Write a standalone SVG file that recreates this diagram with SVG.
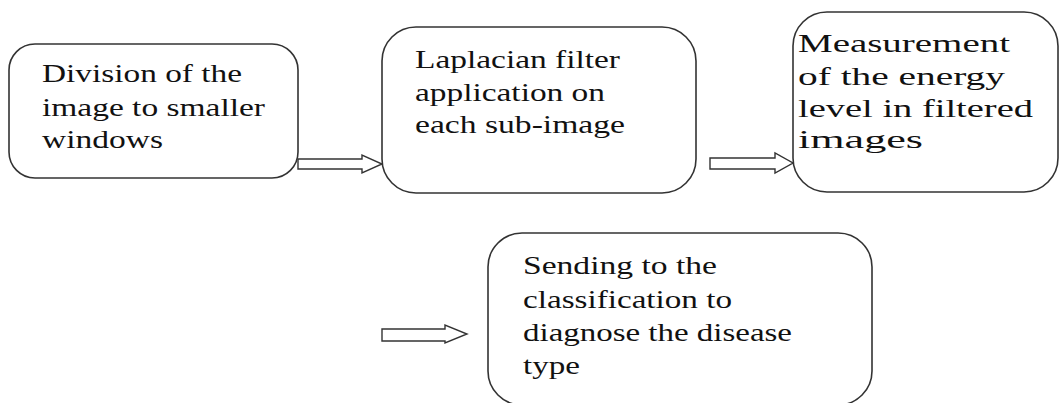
<svg xmlns="http://www.w3.org/2000/svg" width="1061" height="403" viewBox="0 0 1061 403">
  <style>
    .box { fill: #ffffff; stroke: #333333; stroke-width: 1.6; }
    .arrow { fill: #ffffff; stroke: #333333; stroke-width: 1.4; stroke-linejoin: miter; }
    .lbl { font-family: "Liberation Serif", "Times New Roman", serif; font-size: 25px; fill: #111111; }
  </style>
  <rect width="1061" height="403" fill="#ffffff"/>

  <!-- block arrows between steps -->
  <g id="connectors">
    <path class="arrow" d="M298,159 H362 V155 L382,164 L362,173 V169 H298 Z"/>
    <path class="arrow" d="M710,158 H775 V153 L793,163 L775,173 V169 H710 Z"/>
    <path class="arrow" d="M382,329 H445 V325 L467,334 L445,343 V341 H382 Z"/>
  </g>

  <g id="step-division">
    <rect class="box" x="9" y="44" width="289" height="134" rx="26" ry="26"/>
    <text class="lbl" x="42" y="82" textLength="200" lengthAdjust="spacingAndGlyphs">Division of the</text>
    <text class="lbl" x="42" y="116" textLength="223" lengthAdjust="spacingAndGlyphs">image to smaller</text>
    <text class="lbl" x="42" y="148" textLength="121" lengthAdjust="spacingAndGlyphs">windows</text>
  </g>

  <g id="step-laplacian">
    <rect class="box" x="382" y="27" width="314" height="166" rx="34" ry="34"/>
    <text class="lbl" x="415" y="68" textLength="205" lengthAdjust="spacingAndGlyphs">Laplacian filter</text>
    <text class="lbl" x="415" y="101" textLength="190" lengthAdjust="spacingAndGlyphs">application on</text>
    <text class="lbl" x="415" y="133" textLength="210" lengthAdjust="spacingAndGlyphs">each sub-image</text>
  </g>

  <g id="step-energy">
    <rect class="box" x="793" y="12" width="265" height="180" rx="34" ry="34"/>
    <text class="lbl" x="798" y="52" textLength="212" lengthAdjust="spacingAndGlyphs">Measurement</text>
    <text class="lbl" x="798" y="85" textLength="207" lengthAdjust="spacingAndGlyphs">of the energy</text>
    <text class="lbl" x="798" y="117" textLength="235" lengthAdjust="spacingAndGlyphs">level in filtered</text>
    <text class="lbl" x="798" y="148" textLength="125" lengthAdjust="spacingAndGlyphs">images</text>
  </g>

  <g id="step-classification">
    <rect class="box" x="488" y="233" width="384" height="172" rx="34" ry="34"/>
    <text class="lbl" x="523" y="274" textLength="194" lengthAdjust="spacingAndGlyphs">Sending to the</text>
    <text class="lbl" x="523" y="308" textLength="209" lengthAdjust="spacingAndGlyphs">classification to</text>
    <text class="lbl" x="523" y="341" textLength="269" lengthAdjust="spacingAndGlyphs">diagnose the disease</text>
    <text class="lbl" x="523" y="374" textLength="57" lengthAdjust="spacingAndGlyphs">type</text>
  </g>
</svg>
